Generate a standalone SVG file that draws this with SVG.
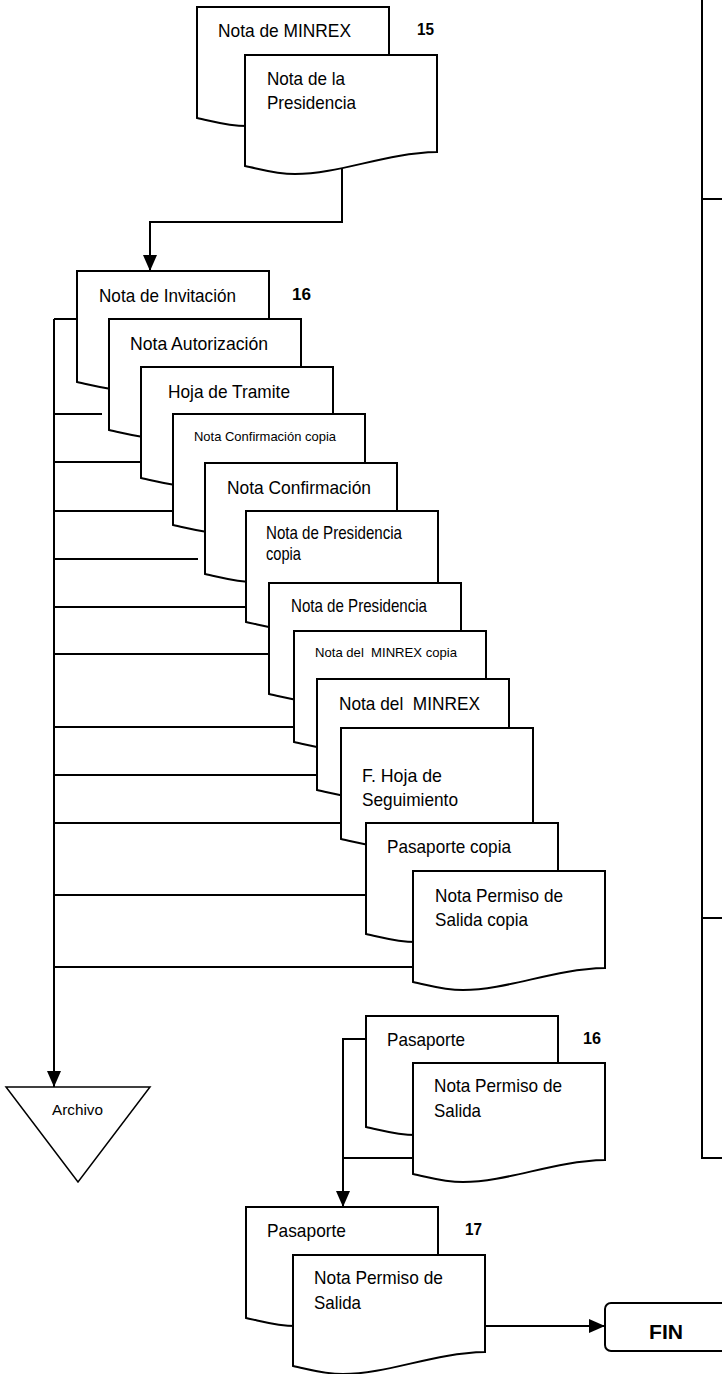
<svg xmlns="http://www.w3.org/2000/svg" width="722" height="1374" viewBox="0 0 722 1374">
  <style>
    .doc { fill: #fff; stroke: #000; stroke-width: 2; stroke-linejoin: miter; }
    .ln { fill: none; stroke: #000; stroke-width: 2; }
    .t { font-family: "Liberation Sans Narrow", "Liberation Sans", Arial, sans-serif; font-size: 19px; fill: #000; white-space: pre; }
    .s { font-family: "Liberation Sans Narrow", "Liberation Sans", Arial, sans-serif; font-size: 13.5px; fill: #000; white-space: pre; }
    .a { font-family: "Liberation Sans Narrow", "Liberation Sans", Arial, sans-serif; font-size: 15px; fill: #000; }
    .n { font-family: "Liberation Sans Narrow", "Liberation Sans", Arial, sans-serif; font-size: 16px; font-weight: bold; fill: #000; }
    .fin { font-family: "Liberation Sans Narrow", "Liberation Sans", Arial, sans-serif; font-size: 21px; font-weight: bold; fill: #000; }
  </style>
  <defs>
    <!-- flowchart document symbol, 192 wide, wavy bottom edge -->
    <path id="doc" class="doc" d="M0,0 H192 V97 C140,98 95,119 50,119 C30,119 15,114 0,111 Z"/>
    <marker id="arr" markerUnits="userSpaceOnUse" markerWidth="16" markerHeight="14" refX="16" refY="7" orient="auto">
      <path d="M0,0 L16,7 L0,14 Z" fill="#000"/>
    </marker>
  </defs>

  <rect width="722" height="1374" fill="#fff"/>

  <g id="connectors">
    <!-- step 15 to step 16 -->
    <path class="ln" d="M342,160 V222 H150 V271" marker-end="url(#arr)"/>
    <!-- archive trunk -->
    <path class="ln" d="M54,319 H77"/>
    <path class="ln" d="M54,319 V1087" marker-end="url(#arr)"/>
    <path class="ln" d="M54,414 H102"/>
    <path class="ln" d="M54,462 H141"/>
    <path class="ln" d="M54,511 H173"/>
    <path class="ln" d="M54,559 H198"/>
    <path class="ln" d="M54,607 H246"/>
    <path class="ln" d="M54,654 H269"/>
    <path class="ln" d="M54,727 H294"/>
    <path class="ln" d="M54,775 H317"/>
    <path class="ln" d="M54,823 H341"/>
    <path class="ln" d="M54,895 H366"/>
    <path class="ln" d="M54,967 H413"/>
    <!-- second step 16 to step 17 -->
    <path class="ln" d="M366,1039 H343 V1207" marker-end="url(#arr)"/>
    <path class="ln" d="M413,1158 H343"/>
    <!-- step 17 to end -->
    <path class="ln" d="M486,1326 H605" marker-end="url(#arr)"/>
    <!-- neighbouring lane -->
    <path class="ln" d="M702,0 V1158 H722"/>
    <path class="ln" d="M702,199 H722"/>
    <path class="ln" d="M702,918 H722"/>
  </g>

  <g id="step15">
    <use href="#doc" x="197" y="7"/>
    <text class="t" x="218" y="37" textLength="133" lengthAdjust="spacingAndGlyphs">Nota de MINREX</text>
    <use href="#doc" x="245" y="55"/>
    <text class="t" x="267" y="85" textLength="78" lengthAdjust="spacingAndGlyphs">Nota de la</text>
    <text class="t" x="267" y="109" textLength="89" lengthAdjust="spacingAndGlyphs">Presidencia</text>
    <text class="n" x="417" y="35" textLength="17" lengthAdjust="spacingAndGlyphs">15</text>
  </g>

  <g id="step16">
    <g id="d1">
      <use href="#doc" x="77" y="271"/>
      <text class="t" x="99" y="302" textLength="137" lengthAdjust="spacingAndGlyphs">Nota de Invitación</text>
    </g>
    <text class="n" x="292" y="300" textLength="19" lengthAdjust="spacingAndGlyphs">16</text>
    <g id="d2">
      <use href="#doc" x="109" y="319"/>
      <text class="t" x="130" y="350" textLength="138" lengthAdjust="spacingAndGlyphs">Nota Autorización</text>
    </g>
    <g id="d3">
      <use href="#doc" x="141" y="367"/>
      <text class="t" x="168" y="398" textLength="122" lengthAdjust="spacingAndGlyphs">Hoja de Tramite</text>
    </g>
    <g id="d4">
      <use href="#doc" x="173" y="414"/>
      <text class="s" x="194" y="441" textLength="142" lengthAdjust="spacingAndGlyphs">Nota Confirmación copia</text>
    </g>
    <g id="d5">
      <use href="#doc" x="205" y="463"/>
      <text class="t" x="227" y="494" textLength="144" lengthAdjust="spacingAndGlyphs">Nota Confirmación</text>
    </g>
    <g id="d6">
      <use href="#doc" x="246" y="511"/>
      <text class="t" x="266" y="539" textLength="136" lengthAdjust="spacingAndGlyphs">Nota de Presidencia</text>
      <text class="t" x="266" y="560" textLength="35" lengthAdjust="spacingAndGlyphs">copia</text>
    </g>
    <g id="d7">
      <use href="#doc" x="269" y="583"/>
      <text class="t" x="291" y="612" textLength="136" lengthAdjust="spacingAndGlyphs">Nota de Presidencia</text>
    </g>
    <g id="d8">
      <use href="#doc" x="294" y="631"/>
      <text class="s" x="315" y="657" textLength="142" lengthAdjust="spacingAndGlyphs">Nota del  MINREX copia</text>
    </g>
    <g id="d9">
      <use href="#doc" x="317" y="679"/>
      <text class="t" x="339" y="710" textLength="141" lengthAdjust="spacingAndGlyphs">Nota del  MINREX</text>
    </g>
    <g id="d10">
      <use href="#doc" x="341" y="728"/>
      <text class="t" x="362" y="782" textLength="80" lengthAdjust="spacingAndGlyphs">F. Hoja de</text>
      <text class="t" x="362" y="806" textLength="96" lengthAdjust="spacingAndGlyphs">Seguimiento</text>
    </g>
    <g id="d11">
      <use href="#doc" x="366" y="823"/>
      <text class="t" x="387" y="853" textLength="124" lengthAdjust="spacingAndGlyphs">Pasaporte copia</text>
    </g>
    <g id="d12">
      <use href="#doc" x="413" y="871"/>
      <text class="t" x="435" y="902" textLength="128" lengthAdjust="spacingAndGlyphs">Nota Permiso de</text>
      <text class="t" x="435" y="926" textLength="93" lengthAdjust="spacingAndGlyphs">Salida copia</text>
    </g>
  </g>

  <g id="archivo">
    <polygon points="6,1087 150,1087 78,1182" fill="#fff" stroke="#000" stroke-width="1.5"/>
    <text class="a" x="52" y="1115" textLength="51" lengthAdjust="spacingAndGlyphs">Archivo</text>
  </g>

  <g id="step16b">
    <use href="#doc" x="366" y="1016"/>
    <text class="t" x="387" y="1046" textLength="78" lengthAdjust="spacingAndGlyphs">Pasaporte</text>
    <text class="n" x="583" y="1044" textLength="18" lengthAdjust="spacingAndGlyphs">16</text>
    <use href="#doc" x="413" y="1063"/>
    <text class="t" x="434" y="1092" textLength="128" lengthAdjust="spacingAndGlyphs">Nota Permiso de</text>
    <text class="t" x="434" y="1117" textLength="47" lengthAdjust="spacingAndGlyphs">Salida</text>
  </g>

  <g id="step17">
    <use href="#doc" x="246" y="1207"/>
    <text class="t" x="267" y="1237" textLength="79" lengthAdjust="spacingAndGlyphs">Pasaporte</text>
    <text class="n" x="465" y="1235" textLength="17" lengthAdjust="spacingAndGlyphs">17</text>
    <use href="#doc" x="293" y="1255"/>
    <text class="t" x="314" y="1284" textLength="129" lengthAdjust="spacingAndGlyphs">Nota Permiso de</text>
    <text class="t" x="314" y="1309" textLength="47" lengthAdjust="spacingAndGlyphs">Salida</text>
  </g>

  <g id="fin">
    <rect x="605" y="1303" width="130" height="48" rx="6" ry="6" fill="#fff" stroke="#000" stroke-width="2"/>
    <text class="fin" x="649" y="1339" textLength="34" lengthAdjust="spacingAndGlyphs">FIN</text>
  </g>
</svg>
